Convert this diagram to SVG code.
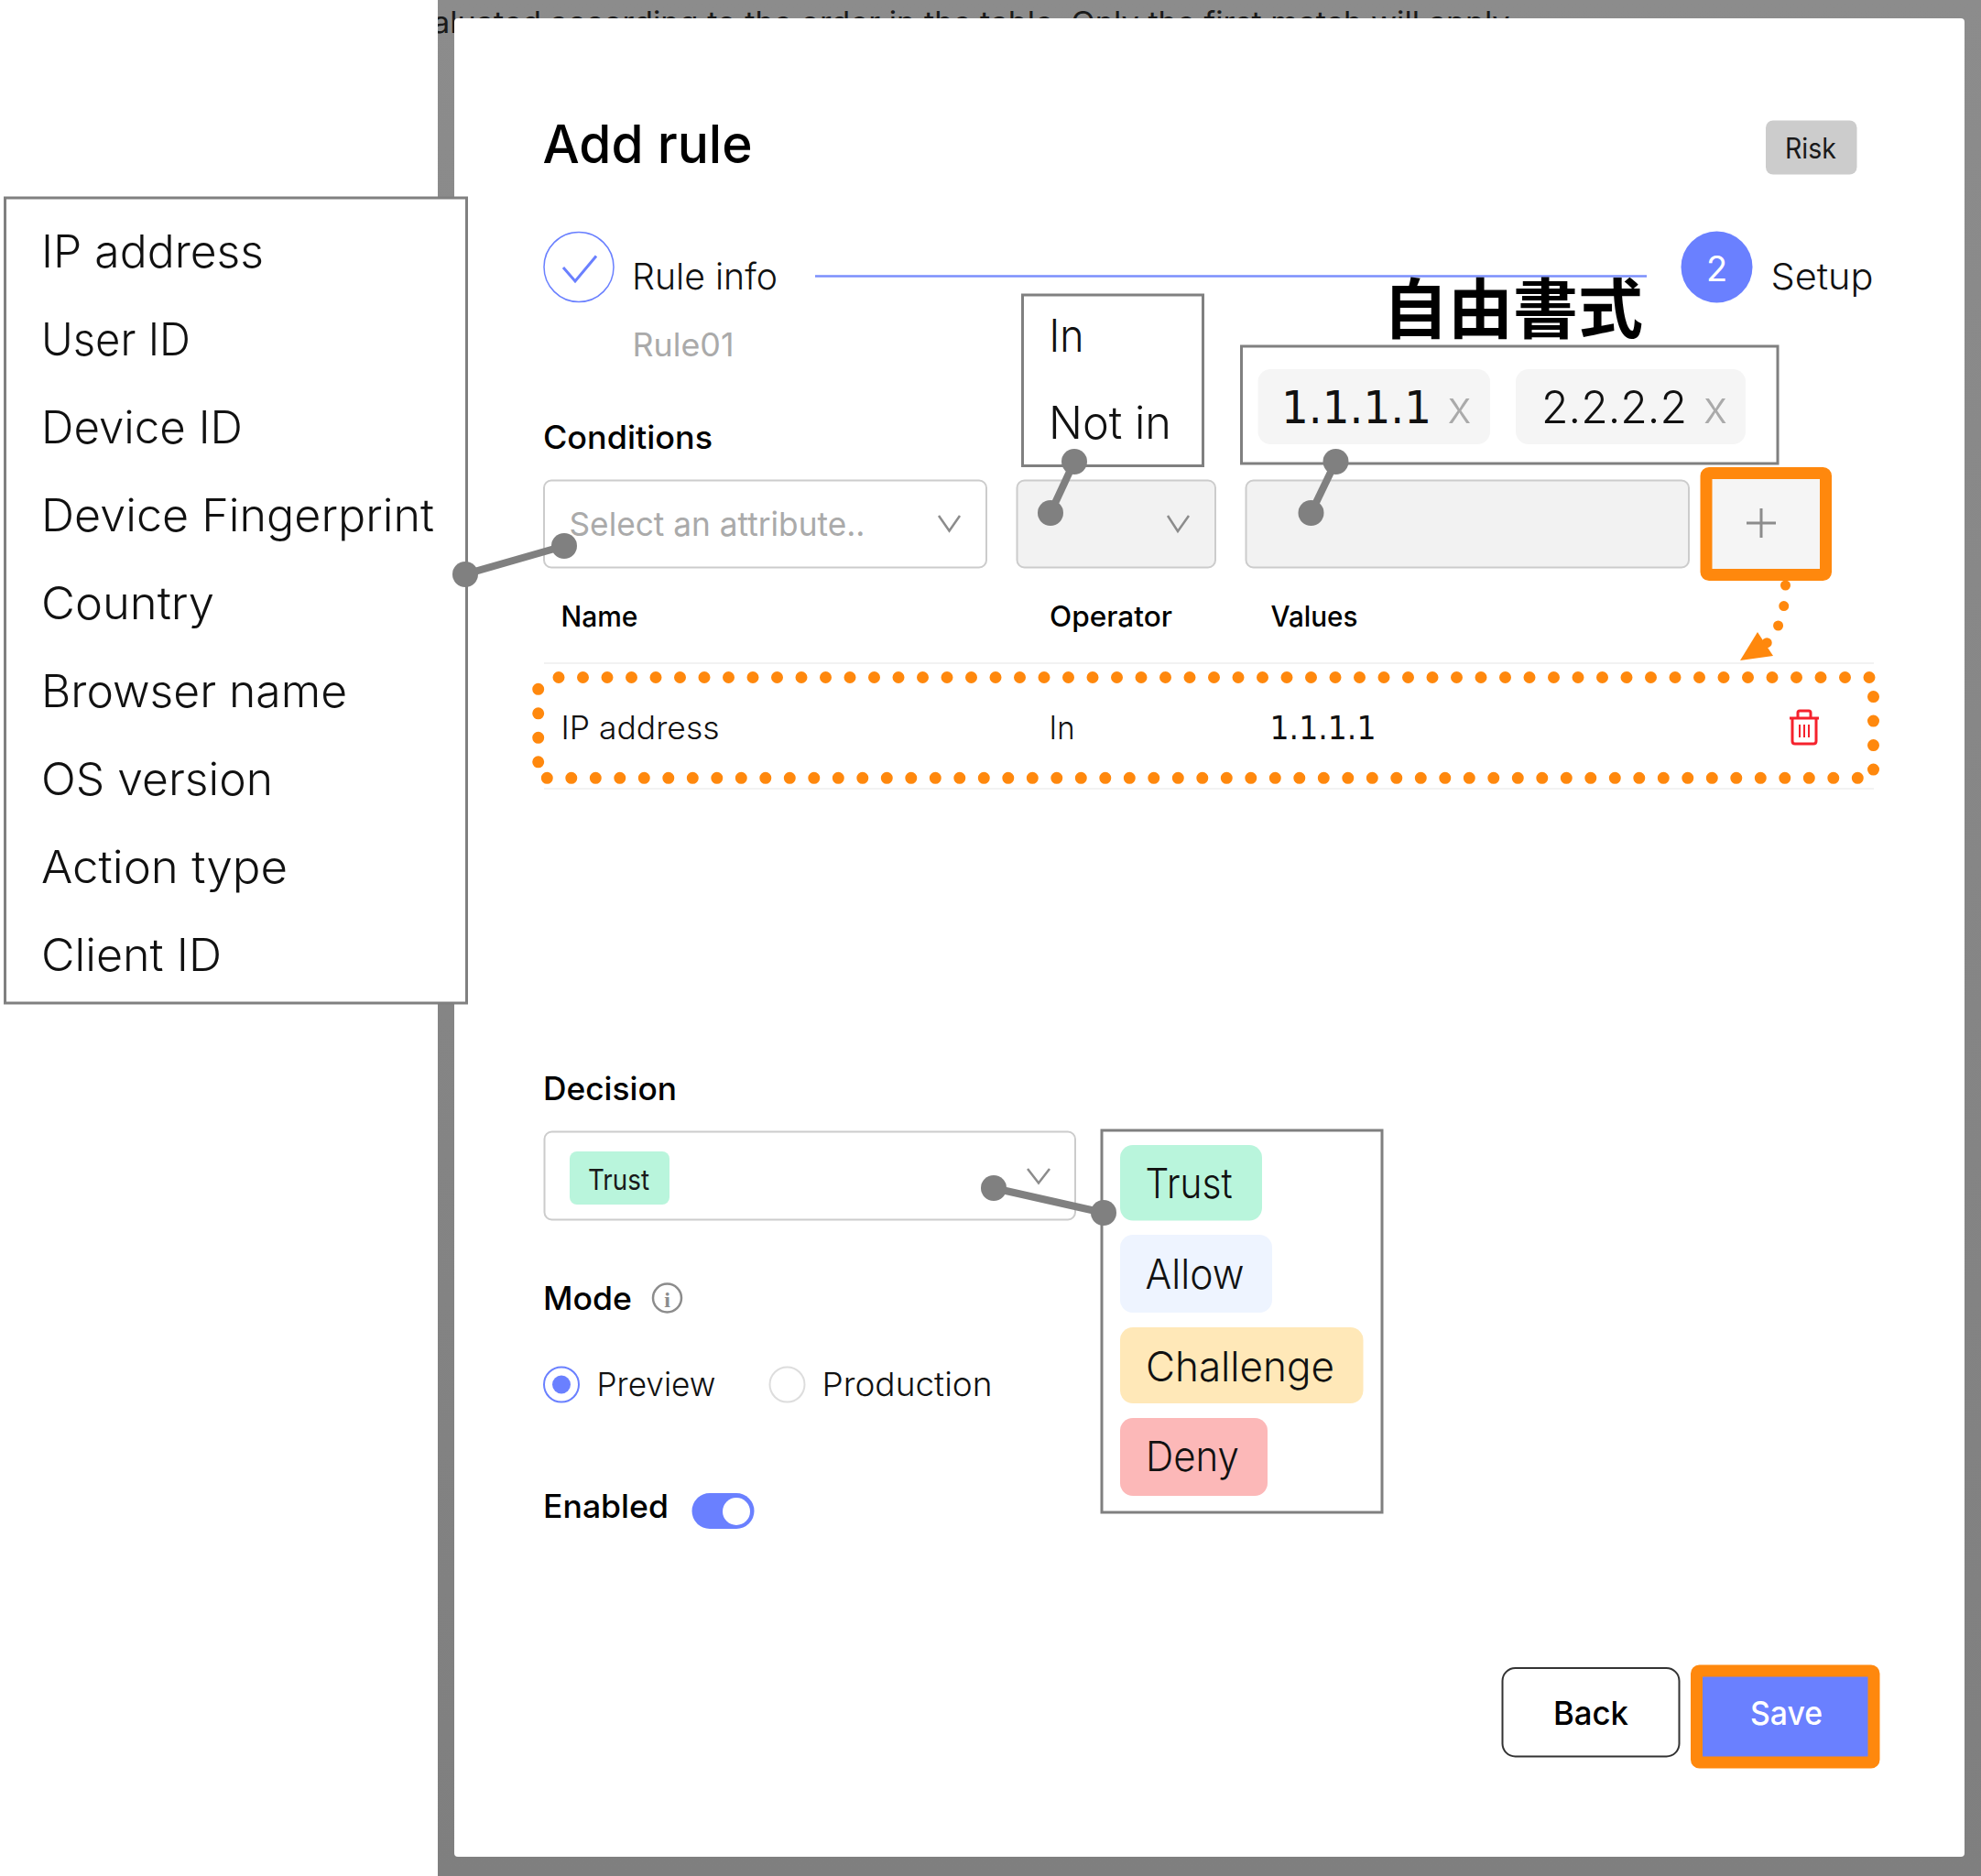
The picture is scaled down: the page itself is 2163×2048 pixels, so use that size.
<svg xmlns="http://www.w3.org/2000/svg" width="2163" height="2048" viewBox="0 0 2163 2048">
<style>
text{font-family:"Inter","Liberation Sans",sans-serif;fill:#1a1a1a;font-weight:400}
.li{font-size:49px;font-weight:300;fill:#111}
.lbl{font-size:35px;font-weight:500;fill:#000}
.th{font-size:31px;font-weight:500;fill:#000}
.td{font-size:35px;font-weight:300;fill:#111}
.one{font-family:"DejaVu Sans","Liberation Sans",sans-serif;font-weight:400}
.mut{fill:#aaaaaa}
.box{fill:#fff;stroke:#808080;stroke-width:3}
.input{fill:#fff;stroke:#cccccc;stroke-width:2}
.dis{fill:#f2f2f2;stroke:#cccccc;stroke-width:2}
.chev{fill:none;stroke:#8c8c8c;stroke-width:2.5}
.chip{fill:#f5f5f5}
.org{fill:none;stroke:#ff880d;stroke-width:13}
.dotline{fill:none;stroke:#ff880d;stroke-width:13;stroke-linecap:round;stroke-dasharray:0 26.5}
.lk{stroke:#808080;stroke-width:8;fill:none}
.dot{fill:#808080}
</style>
<defs>
<linearGradient id="gray" x1="0" y1="0" x2="0" y2="1"><stop offset="0" stop-color="#8c8c8c"/><stop offset="1" stop-color="#7f7f7f"/></linearGradient>
<clipPath id="grayclip"><rect x="478" y="0" width="1685" height="2048"/></clipPath>
</defs>
<rect width="2163" height="2048" fill="#fff"/>
<g id="backdrop">
<rect x="478" y="0" width="1685" height="2048" fill="url(#gray)"/>
<g clip-path="url(#grayclip)"><text x="472" y="36" font-size="33" textLength="1185" lengthAdjust="spacingAndGlyphs" style="fill:#1a1a1a">aluated according to the order in the table. Only the first match will apply.</text></g>
<rect x="496" y="20" width="1649" height="2007" rx="4" fill="#fff"/>
</g>
<g id="header">
<text x="592.500" y="178" font-size="58" textLength="229" lengthAdjust="spacingAndGlyphs" style="font-weight:500;fill:#000">Add rule</text>
<rect x="1928" y="131.500" width="99.500" height="59" rx="8" fill="#cccccc"/>
<text x="1949" y="173" font-size="31" textLength="56" lengthAdjust="spacingAndGlyphs">Risk</text>
</g>
<g id="steps">
<line x1="890" y1="301.500" x2="1798" y2="301.500" stroke="#7b8ffc" stroke-width="2.500"/>
<circle cx="632" cy="291.500" r="38" fill="#fff" stroke="#6a80ff" stroke-width="1.500"/>
<path d="M615 292L628 307L651 279.500" fill="none" stroke="#6a80ff" stroke-width="3"/>
<text x="690" y="316" font-size="40" textLength="159" lengthAdjust="spacingAndGlyphs" style="font-weight:300;fill:#111">Rule info</text>
<text class="mut" x="690.500" y="389" font-size="35" textLength="111" lengthAdjust="spacingAndGlyphs">Rule01</text>
<circle cx="1874.500" cy="291.500" r="39" fill="#6a80ff"/>
<text x="1874.500" y="307" font-size="38" text-anchor="middle" style="fill:#fff">2</text>
<text x="1933.500" y="316" font-size="40" textLength="112" lengthAdjust="spacingAndGlyphs" style="font-weight:300;fill:#111">Setup</text>
</g>
<g id="attribute-list">
<rect class="box" x="5.500" y="216" width="504" height="879"/>
<text class="li" x="45" y="291.500" textLength="243" lengthAdjust="spacingAndGlyphs">IP address</text>
<text class="li" x="45" y="387.500" textLength="163" lengthAdjust="spacingAndGlyphs">User ID</text>
<text class="li" x="45" y="484" textLength="220" lengthAdjust="spacingAndGlyphs">Device ID</text>
<text class="li" x="45" y="580" textLength="429" lengthAdjust="spacingAndGlyphs">Device Fingerprint</text>
<text class="li" x="45" y="676" textLength="189" lengthAdjust="spacingAndGlyphs">Country</text>
<text class="li" x="45" y="772" textLength="334" lengthAdjust="spacingAndGlyphs">Browser name</text>
<text class="li" x="45" y="868" textLength="253" lengthAdjust="spacingAndGlyphs">OS version</text>
<text class="li" x="45" y="964" textLength="269" lengthAdjust="spacingAndGlyphs">Action type</text>
<text class="li" x="45" y="1059.500" textLength="197" lengthAdjust="spacingAndGlyphs">Client ID</text>
</g>
<g id="conditions">
<text class="lbl" x="593" y="490" textLength="185" lengthAdjust="spacingAndGlyphs">Conditions</text>
<rect class="input" x="594" y="524.500" width="483" height="95" rx="8"/>
<text class="mut" x="621.500" y="585" font-size="36" textLength="323" lengthAdjust="spacingAndGlyphs">Select an attribute..</text>
<path class="chev" d="M1025 563L1036.500 579.500L1048 563"/>
<rect class="dis" x="1110.500" y="524.500" width="216.500" height="95" rx="8"/>
<path class="chev" d="M1275 563L1286 580L1298 563"/>
<rect class="dis" x="1360.500" y="524.500" width="483.500" height="95" rx="8"/>
<rect x="1863" y="516.500" width="130.500" height="111" rx="3" fill="#f5f5f5"/>
<rect class="org" x="1863" y="516.500" width="130.500" height="111" rx="3"/>
<path d="M1923 555V587M1907 571H1939" fill="none" stroke="#8c8c8c" stroke-width="3"/>
</g>
<g id="operator-list">
<rect class="box" x="1116.500" y="322" width="197" height="186.500"/>
<text class="li" x="1145.500" y="383.500" textLength="38" lengthAdjust="spacingAndGlyphs">In</text>
<text class="li" x="1145" y="479" textLength="134" lengthAdjust="spacingAndGlyphs">Not in</text>
</g>
<g id="values-list">
<text x="1510" y="362.500" font-size="71" style="font-family:'Noto Sans CJK TC','Noto Sans CJK JP',sans-serif;font-weight:700;fill:#000">自由書式</text>
<rect class="box" x="1355.500" y="378" width="585.500" height="128"/>
<rect class="chip" x="1373.500" y="403" width="253.500" height="82" rx="14"/>
<text class="li one" x="1399" y="462" textLength="164" lengthAdjust="spacingAndGlyphs">1.1.1.1</text>
<text class="li mut" x="1580.500" y="462">x</text>
<rect class="chip" x="1655" y="403" width="251" height="82" rx="14"/>
<text class="li" x="1683" y="462" textLength="159" lengthAdjust="spacingAndGlyphs">2.2.2.2</text>
<text class="li mut" x="1860" y="462">x</text>
</g>
<g id="rule-table">
<line x1="594" y1="724" x2="2046" y2="724" stroke="#f2f2f2" stroke-width="2"/>
<line x1="594" y1="861" x2="2046" y2="861" stroke="#f2f2f2" stroke-width="2"/>
<text class="th" x="612.500" y="684" textLength="84" lengthAdjust="spacingAndGlyphs">Name</text>
<text class="th" x="1146" y="684" textLength="134" lengthAdjust="spacingAndGlyphs">Operator</text>
<text class="th" x="1387.500" y="684" textLength="95" lengthAdjust="spacingAndGlyphs">Values</text>
<text class="td" x="612.500" y="806.500" textLength="173" lengthAdjust="spacingAndGlyphs">IP address</text>
<text class="td" x="1145.500" y="806.500" textLength="28" lengthAdjust="spacingAndGlyphs">In</text>
<text class="td one" x="1386.500" y="806.500" textLength="116" lengthAdjust="spacingAndGlyphs">1.1.1.1</text>
<g fill="none" stroke="#f5222d" stroke-width="3">
<path d="M1954 784H1986M1963 784V778Q1963 776 1965 776H1975Q1977 776 1977 778V784"/>
<path d="M1957 784V809Q1957 812 1960 812H1980Q1983 812 1983 809V784"/>
<path d="M1965 791V805M1970 791V805M1975 791V805" stroke-width="2"/>
</g>
<path class="dotline" d="M610 739.500H2042"/>
<path class="dotline" d="M2045.500 760.600V842"/>
<path class="dotline" d="M597.300 849.300H2029"/>
<path class="dotline" d="M587.700 752.300V833"/>
</g>
<g id="decision">
<text class="lbl" x="593" y="1201" textLength="146" lengthAdjust="spacingAndGlyphs">Decision</text>
<rect class="input" x="594.500" y="1235.500" width="579.500" height="96" rx="8"/>
<rect x="622" y="1257" width="109" height="58" rx="8" fill="#b9f5dc"/>
<text x="642" y="1298.500" font-size="31" textLength="67" lengthAdjust="spacingAndGlyphs">Trust</text>
<path class="chev" d="M1122 1276L1134 1291.500L1146 1276"/>
</g>
<g id="decision-list">
<rect class="box" x="1203" y="1234" width="306" height="417"/>
<rect x="1223" y="1250" width="155" height="82.500" rx="14" fill="#b9f5dc"/>
<text x="1250.500" y="1307.500" font-size="45" textLength="95" lengthAdjust="spacingAndGlyphs" style="font-weight:300;fill:#111">Trust</text>
<rect x="1223" y="1348" width="166" height="85" rx="14" fill="#eef4ff"/>
<text x="1250.500" y="1406.500" font-size="45" textLength="108" lengthAdjust="spacingAndGlyphs" style="font-weight:300;fill:#111">Allow</text>
<rect x="1223" y="1449" width="265.500" height="83" rx="14" fill="#ffe8b8"/>
<text x="1251" y="1507.500" font-size="45" textLength="206" lengthAdjust="spacingAndGlyphs" style="font-weight:300;fill:#111">Challenge</text>
<rect x="1223" y="1548" width="161" height="85" rx="14" fill="#fcb8b8"/>
<text x="1251" y="1605.500" font-size="45" textLength="102" lengthAdjust="spacingAndGlyphs" style="font-weight:300;fill:#111">Deny</text>
</g>
<g id="mode">
<text class="lbl" x="593" y="1430" textLength="97" lengthAdjust="spacingAndGlyphs">Mode</text>
<circle cx="728.500" cy="1417" r="15.500" fill="none" stroke="#8c8c8c" stroke-width="2.500"/>
<text x="728.500" y="1427" font-size="24" text-anchor="middle" style="font-family:'Liberation Serif',serif;fill:#8c8c8c;font-weight:700">i</text>
<circle cx="613" cy="1511.500" r="19" fill="#fff" stroke="#6a80ff" stroke-width="2"/>
<circle cx="613" cy="1511.500" r="10" fill="#6a80ff"/>
<text x="651.500" y="1523.500" font-size="36" textLength="130" lengthAdjust="spacingAndGlyphs" style="font-weight:300;fill:#111">Preview</text>
<circle cx="859.500" cy="1511.500" r="19" fill="#fff" stroke="#dddddd" stroke-width="2"/>
<text x="897.500" y="1523.500" font-size="36" textLength="186" lengthAdjust="spacingAndGlyphs" style="font-weight:300;fill:#111">Production</text>
</g>
<g id="enabled">
<text class="lbl" x="593" y="1657" textLength="137" lengthAdjust="spacingAndGlyphs">Enabled</text>
<rect x="755.500" y="1630" width="68" height="39" rx="19.500" fill="#6a80ff"/>
<circle cx="804" cy="1650" r="15" fill="#fff"/>
</g>
<g id="back-button">
<rect x="1640.500" y="1821" width="193" height="96.500" rx="14" fill="#fff" stroke="#333333" stroke-width="2"/>
<text x="1696" y="1883" font-size="36" textLength="82" lengthAdjust="spacingAndGlyphs" style="font-weight:500;fill:#000">Back</text>
</g>
<g id="save-button">
<rect x="1852.500" y="1824" width="193.500" height="100" rx="3" fill="#6a80ff"/>
<rect class="org" x="1852.500" y="1824" width="193.500" height="100" rx="3"/>
<text x="1911" y="1883" font-size="36" textLength="79" lengthAdjust="spacingAndGlyphs" style="font-weight:500;fill:#fff">Save</text>
</g>
<g id="connectors">
<g>
<line class="lk" x1="508" y1="627" x2="616" y2="596"/><circle class="dot" cx="508" cy="627" r="14"/><circle class="dot" cx="616" cy="596" r="14"/>
</g>
<g>
<line class="lk" x1="1173" y1="504" x2="1147" y2="560"/><circle class="dot" cx="1173" cy="504" r="14"/><circle class="dot" cx="1147" cy="560" r="14"/>
</g>
<g>
<line class="lk" x1="1458.500" y1="504" x2="1431.500" y2="560"/><circle class="dot" cx="1458.500" cy="504" r="14"/><circle class="dot" cx="1431.500" cy="560" r="14"/>
</g>
<g>
<line class="lk" x1="1085" y1="1297" x2="1205" y2="1324"/><circle class="dot" cx="1085" cy="1297" r="14"/><circle class="dot" cx="1205" cy="1324" r="14"/>
</g>
<path class="dotline" d="M1949.500 639C1949 665 1945 685 1928 703" style="stroke-width:11;stroke-dasharray:0 22.500"/>
<polygon points="1900,721 1919,690 1936,716" fill="#ff880d"/>
</g>
</svg>
